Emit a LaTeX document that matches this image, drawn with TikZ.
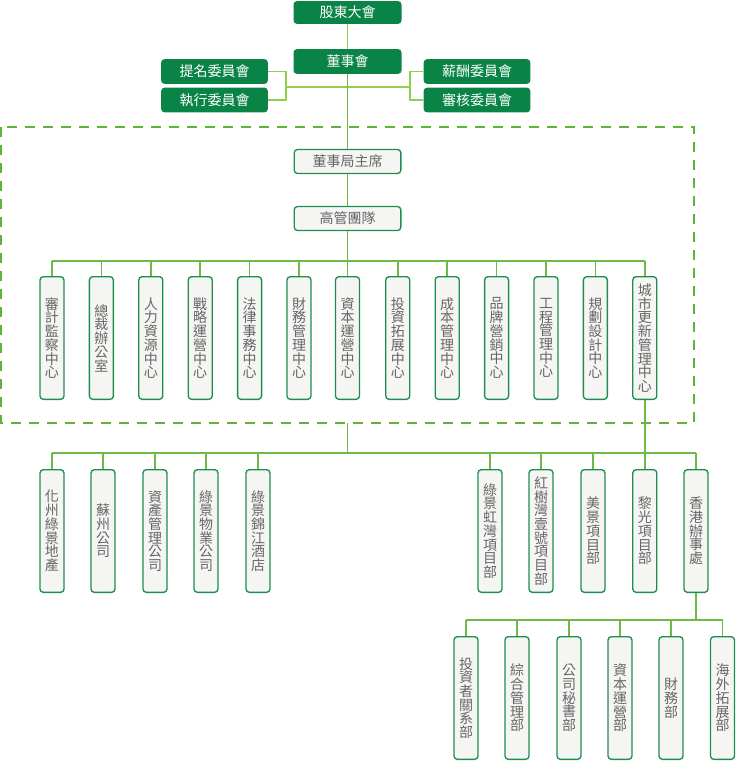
\documentclass[tikz,border=0pt]{standalone}
\usepackage{fontspec}
\newfontfamily\cjk{Noto Sans CJK TC}
\definecolor{dkgreen}{HTML}{0A8446}
\definecolor{bordergreen}{HTML}{1E8E50}
\definecolor{boxbg}{HTML}{F5F5F3}
\definecolor{txtgray}{HTML}{666666}
\definecolor{topline}{HTML}{8FD14F}
\definecolor{conline}{HTML}{6CBA45}
\definecolor{dashgreen}{HTML}{5DB53A}
\begin{document}
\begin{tikzpicture}[x=0.75pt,y=-0.75pt,
  topbox/.style={fill=dkgreen,text=white,rounded corners=2.5pt,inner sep=0pt,
    minimum width=81pt,minimum height=18.5pt,font={\cjk\fontsize{10.5pt}{12pt}\selectfont}},
  hbox/.style={fill=boxbg,draw=bordergreen,line width=1pt,text=txtgray,rounded corners=2.5pt,
    inner sep=0pt,minimum width=80pt,minimum height=18pt,font={\cjk\fontsize{10.5pt}{12pt}\selectfont}},
  vbox/.style={fill=boxbg,draw=bordergreen,line width=1pt,text=txtgray,rounded corners=2.5pt,
    inner sep=0pt,minimum width=18pt,minimum height=92pt,align=center,
    font={\cjk\fontsize{10.5pt}{10.3pt}\selectfont}},
  tline/.style={draw=topline,line width=1.2pt},
  cline/.style={draw=conline,line width=1.2pt}]
\useasboundingbox (0,0) rectangle (736,761);

% dashed frame
\draw[dashgreen,line width=1.2pt,dash pattern=on 7.5pt off 6pt] (1,127) rectangle (694,423);

% top
\node[topbox,minimum height=17pt] (gd) at (347.5,12.5) {股東大會};
\node[topbox] (dsh) at (347.5,61.5) {董事會};
\node[topbox,minimum width=80pt] (tm) at (214.5,71.5) {提名委員會};
\node[topbox,minimum width=80pt] (zx) at (214.5,100) {執行委員會};
\node[topbox,minimum width=80pt] (xc) at (477,71.5) {薪酬委員會};
\node[topbox,minimum width=80pt] (sh) at (477,100) {審核委員會};

\node[hbox] (zx2) at (347.5,161.5) {董事局主席};
\node[hbox] (gg) at (347.5,218.5) {高管團隊};

% row 1
\node[vbox] (a0) at (52,338) {審\\計\\監\\察\\中\\心};
\node[vbox] (a1) at (101.4,338) {總\\裁\\辦\\公\\室};
\node[vbox] (a2) at (150.8,338) {人\\力\\資\\源\\中\\心};
\node[vbox] (a3) at (200.2,338) {戰\\略\\運\\營\\中\\心};
\node[vbox] (a4) at (249.6,338) {法\\律\\事\\務\\中\\心};
\node[vbox] (a5) at (299,338) {財\\務\\管\\理\\中\\心};
\node[vbox] (a6) at (347.5,338) {資\\本\\運\\營\\中\\心};
\node[vbox] (a7) at (397.8,338) {投\\資\\拓\\展\\中\\心};
\node[vbox] (a8) at (447.2,338) {成\\本\\管\\理\\中\\心};
\node[vbox] (a9) at (496.6,338) {品\\牌\\營\\銷\\中\\心};
\node[vbox] (a10) at (546,338) {工\\程\\管\\理\\中\\心};
\node[vbox] (a11) at (595.4,338) {規\\劃\\設\\計\\中\\心};
\node[vbox] (a12) at (644.8,338) {城\\市\\更\\新\\管\\理\\中\\心};

% row 2
\node[vbox] (b0) at (52,531) {化\\州\\綠\\景\\地\\產};
\node[vbox] (b1) at (103,531) {蘇\\州\\公\\司};
\node[vbox] (b2) at (155,531) {資\\產\\管\\理\\公\\司};
\node[vbox] (b3) at (206,531) {綠\\景\\物\\業\\公\\司};
\node[vbox] (b4) at (258,531) {綠\\景\\錦\\江\\酒\\店};
\node[vbox] (b5) at (490,531) {綠\\景\\虹\\灣\\項\\目\\部};
\node[vbox] (b6) at (541,531) {紅\\樹\\灣\\壹\\號\\項\\目\\部};
\node[vbox] (b7) at (593,531) {美\\景\\項\\目\\部};
\node[vbox] (b8) at (644.8,531) {黎\\光\\項\\目\\部};
\node[vbox] (b9) at (696,531) {香\\港\\辦\\事\\處};

% row 3
\node[vbox] (c0) at (466,698) {投\\資\\者\\關\\系\\部};
\node[vbox] (c1) at (517,698) {綜\\合\\管\\理\\部};
\node[vbox] (c2) at (569,698) {公\\司\\秘\\書\\部};
\node[vbox] (c3) at (620,698) {資\\本\\運\\營\\部};
\node[vbox] (c4) at (671,698) {財\\務\\部};
\node[vbox] (c5) at (722.5,698) {海\\外\\拓\\展\\部};

% coordinates
\coordinate (jl) at (286,87);
\coordinate (jr) at (410,87);
\coordinate (bus1) at (347.5,261);
\coordinate (dashbot) at (347.5,423);
\coordinate (bus2) at (347.5,453);
\coordinate (bus3) at (696,620);

% top connectors
\draw[tline] (gd.south) -- (dsh.north);
\draw[tline] (tm.east) -| (jl) |- (zx.east);
\draw[tline] (xc.west) -| (jr) |- (sh.west);
\draw[tline] (jl) -- (jr);
\draw[cline] (dsh.south) -- (zx2.north);
\draw[cline] (zx2.south) -- (gg.north);

% bus 1
\draw[cline] (gg.south) -- (bus1);
\draw[cline] (a0.north |- bus1) -- (a12.north |- bus1);
\foreach \n in {a0,a1,a2,a3,a4,a5,a6,a7,a8,a9,a10,a11,a12}
  \draw[cline] (\n.north |- bus1) -- (\n.north);

% bus 2
\draw[cline] (dashbot) -- (bus2);
\draw[cline] (a12.south) -- (a12.south |- bus2);
\draw[cline] (b0.north |- bus2) -- (b9.north |- bus2);
\foreach \n in {b0,b1,b2,b3,b4,b5,b6,b7,b8,b9}
  \draw[cline] (\n.north |- bus2) -- (\n.north);

% bus 3
\draw[cline] (b9.south) -- (bus3);
\draw[cline] (c0.north |- bus3) -- (c5.north |- bus3);
\foreach \n in {c0,c1,c2,c3,c4,c5}
  \draw[cline] (\n.north |- bus3) -- (\n.north);
\end{tikzpicture}
\end{document}
